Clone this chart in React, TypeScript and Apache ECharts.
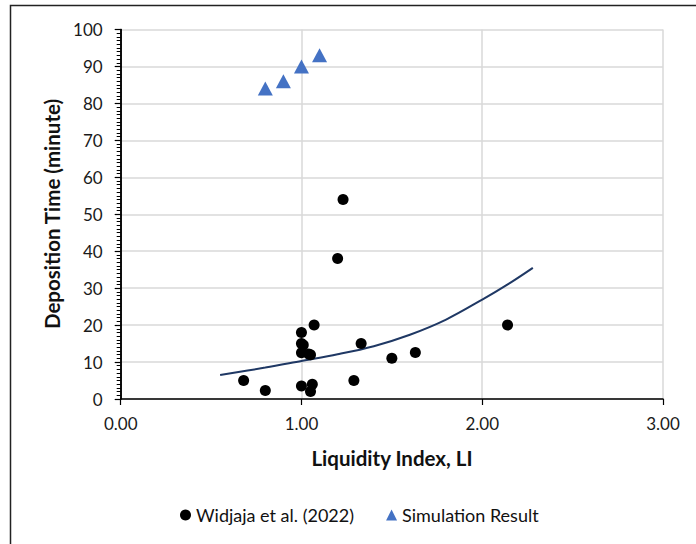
import React, { useEffect, useRef } from "react";
import * as echarts from "echarts";

const widjajaX = [0.68, 0.8, 1.0, 1.0, 1.0, 1.01, 1.04, 1.05, 1.07, 1.0, 1.06, 1.05, 1.23, 1.2, 1.33, 1.29, 1.5, 1.63, 2.14];
const widjajaY = [5, 2.3, 18, 15, 12.5, 14.6, 12.2, 12, 20, 3.5, 4, 2, 54, 38, 15, 5, 11, 12.6, 20];

const simX = [0.8, 0.9, 1.0, 1.1];
const simY = [84, 86, 90, 93];

const trendX = [0.55, 0.8, 1.0, 1.2, 1.4, 1.6, 1.8, 2.0, 2.15, 2.28];
const trendY = [6.5, 8.5, 10.3, 12.1, 14.3, 17.4, 21.5, 26.9, 31.3, 35.5];

const xTicks = [0, 1, 2, 3];
const yTicks = [0, 10, 20, 30, 40, 50, 60, 70, 80, 90, 100];

const FONT = "Lato, 'Open Sans', sans-serif";

export default function App() {
  const ref = useRef<HTMLDivElement>(null);
  useEffect(() => {
    if (!ref.current) return;
    const chart = echarts.init(ref.current, undefined, { renderer: "svg" });
    const pair = (xs: number[], ys: number[]) => xs.map((x, i) => [x, ys[i]]);
    chart.setOption({
      animation: false,
      backgroundColor: "#ffffff",
      textStyle: { fontFamily: FONT },
      grid: { left: 120.7, right: 33, top: 29.5, bottom: 145 },
      xAxis: [
        {
          type: "value",
          min: xTicks[0],
          max: xTicks[xTicks.length - 1],
          interval: 1,
          axisLine: { show: true, onZero: false, lineStyle: { color: "#000", width: 1.5 } },
          axisTick: { show: true, inside: false, length: 6, lineStyle: { color: "#000", width: 1.2 } },
          axisLabel: {
            margin: 16,
            color: "#1a1a1a",
            fontSize: 17,
            fontFamily: FONT,
            formatter: (v: number) => v.toFixed(2),
          },
          splitLine: { show: true, lineStyle: { color: "#d9d9d9", width: 1.5 } },
        },
      ],
      yAxis: [
        {
          type: "value",
          min: yTicks[0],
          max: yTicks[yTicks.length - 1],
          interval: 10,
          axisLine: { show: true, onZero: false, lineStyle: { color: "#000", width: 1.5 } },
          axisTick: { show: true, inside: false, length: 6, lineStyle: { color: "#000", width: 1.2 } },
          minorTick: { show: true, splitNumber: 10, length: 4, lineStyle: { color: "#000", width: 1 } },
          axisLabel: { margin: 18, color: "#1a1a1a", fontSize: 17, fontFamily: FONT },
          splitLine: { show: true, lineStyle: { color: "#d9d9d9", width: 1.5 } },
        },
        {
          type: "value",
          position: "right",
          min: 0,
          max: 100,
          interval: 10,
          axisLine: { show: true, lineStyle: { color: "#000", width: 1.5 } },
          axisTick: { show: false },
          axisLabel: { show: false },
          splitLine: { show: false },
        },
      ],
      legend: {
        left: 180,
        top: 506,
        padding: 0,
        itemWidth: 11,
        itemHeight: 11,
        itemGap: 32,
        textStyle: { fontSize: 18, color: "#111", fontFamily: FONT },
        data: [
          { name: "Widjaja et al. (2022)", icon: "circle" },
          { name: "Simulation Result", icon: "triangle" },
        ],
      },
      graphic: [
        {
          type: "rect",
          shape: { x: 10.5, y: 5.5, width: 720, height: 580 },
          style: { fill: "none", stroke: "#222", lineWidth: 1.5 },
          silent: true,
        },
        {
          type: "text",
          x: 52,
          y: 214,
          rotation: Math.PI / 2,
          style: {
            text: "Deposition Time (minute)",
            fontSize: 20.5,
            fontWeight: "bold",
            fontFamily: FONT,
            fill: "#111",
            textAlign: "center",
            textVerticalAlign: "middle",
          },
        },
        {
          type: "text",
          x: 392,
          y: 458,
          style: {
            text: "Liquidity Index, LI",
            fontSize: 20.5,
            fontWeight: "bold",
            fontFamily: FONT,
            fill: "#111",
            textAlign: "center",
            textVerticalAlign: "middle",
          },
        },
      ],
      series: [
        {
          name: "Trend",
          type: "line",
          data: pair(trendX, trendY),
          smooth: 0.35,
          showSymbol: false,
          symbol: "none",
          lineStyle: { color: "#1f3864", width: 2 },
          z: 2,
          silent: true,
        },
        {
          name: "Widjaja et al. (2022)",
          type: "scatter",
          data: pair(widjajaX, widjajaY),
          symbol: "circle",
          symbolSize: 11,
          itemStyle: { color: "#000", opacity: 1 },
          z: 3,
        },
        {
          name: "Simulation Result",
          type: "scatter",
          data: pair(simX, simY),
          symbol: "triangle",
          symbolSize: [15, 14],
          itemStyle: { color: "#4472c4", opacity: 1 },
          z: 3,
        },
      ],
    });
    return () => chart.dispose();
  }, []);
  return (
    <div
      ref={ref}
      style={{ position: "absolute", left: 0, top: 0, width: 696, height: 544 }}
    />
  );
}
